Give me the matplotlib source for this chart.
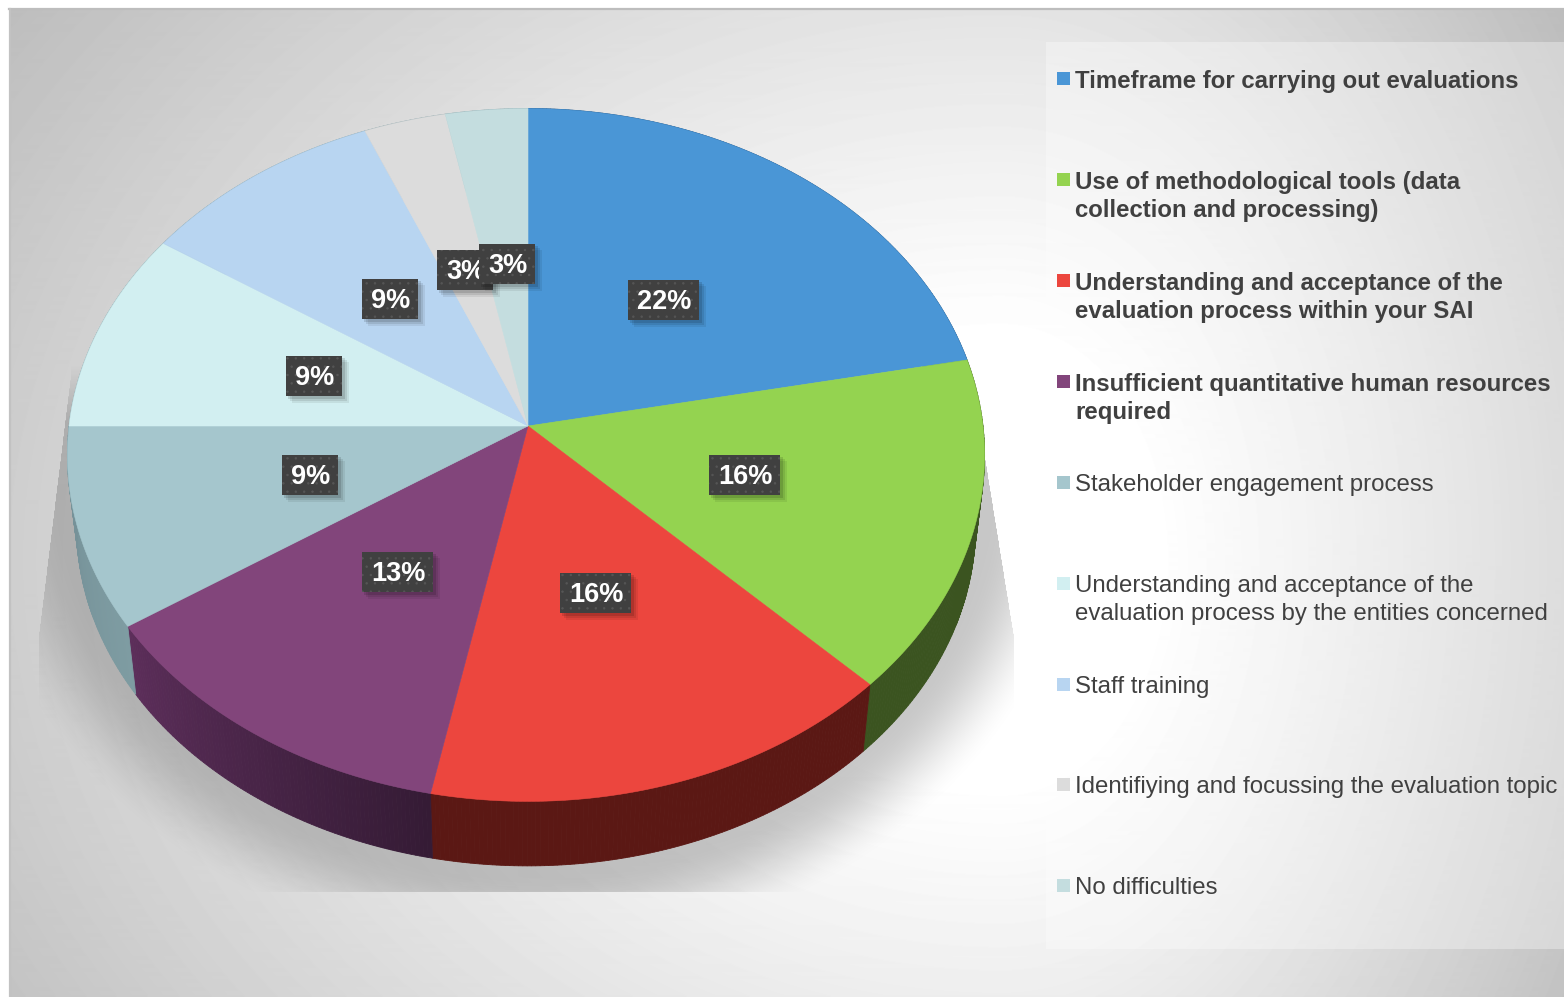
import numpy as np
import matplotlib
matplotlib.use("Agg")
import matplotlib.pyplot as plt
from matplotlib.colors import to_rgb
from matplotlib.patches import Rectangle

plt.rcParams["font.family"] = ["Liberation Sans", "DejaVu Sans"]
plt.rcParams["hatch.linewidth"] = 0.5

W, H = 1564, 997

# responses per difficulty (out of 32)
counts = [7, 5, 5, 4, 3, 3, 3, 1, 1]
labels = [
    "Timeframe for carrying out evaluations",
    "Use of methodological tools (data\ncollection and processing)",
    "Understanding and acceptance of the\nevaluation process within your SAI",
    "Insufficient quantitative human resources\nrequired",
    "Stakeholder engagement process",
    "Understanding and acceptance of the\nevaluation process by the entities concerned",
    "Staff training",
    "Identifiying and focussing the evaluation topic",
    "No difficulties",
]
bold = [True, True, True, True, False, False, False, False, False]
colors = ["#4a96d6", "#94d350", "#ec463e", "#82457b", "#a5c6cd",
          "#d2eff1", "#b8d5f1", "#dcdcdc", "#c4dddf"]
side_from = ["#25507a", "#3b5420", "#5b1814", "#351b35", "#7e9ca2",
             "#7e9ca2", "#7e9ca2", "#7e9ca2", "#7e9ca2"]
side_to = ["#25507a", "#3b5420", "#5b1814", "#5c2e5a", "#748f96",
           "#7e9ca2", "#7e9ca2", "#7e9ca2", "#7e9ca2"]
label_frac = [0.50, 0.485, 0.47, 0.477, 0.485, 0.50, 0.505, 0.51, 0.51]

# perspective of the pie on the page, in pixels
CX, CY = 528, 426
RX_LEFT, RX_RIGHT, RY, PERSP = 459, 455, 344.0, 0.0836
DEPTH, BASE_SCALE = 72, 0.98


def project(theta, r=1.0):
    # theta runs clockwise from 12 o'clock, in degrees
    t = np.radians(theta)
    u, v = r * np.sin(t), r * np.cos(t)
    d = 1 + PERSP * v
    return CX + np.where(u < 0, RX_LEFT, RX_RIGHT) * u / d, CY - RY * v / d


def to_base(x, y):
    return (CX + (x - CX) * BASE_SCALE, CY + (y - CY) * BASE_SCALE + DEPTH)


fig = plt.figure(figsize=(W / 100, H / 100), dpi=100)
ax = fig.add_axes([0, 0, 1, 1])
ax.axis("off")

# page background
xx, yy = np.meshgrid(np.arange(W), np.arange(H))
rx_map = np.where(xx > 1000, 784.0, 1400.0)
dist = np.sqrt(((xx - 1000) / rx_map) ** 2 + ((yy - 560) / 1100.0) ** 2)
grey = (255 - 75 * np.clip((dist - 0.2) / 0.75, 0, 1.2) ** 1.1) / 255
ax.imshow(grey, cmap="gray", vmin=0, vmax=1, extent=(0, W, H, 0), aspect="auto", zorder=0)
ax.add_patch(Rectangle((0, 0), W, 9, fc="white", ec="none", zorder=1))
ax.add_patch(Rectangle((0, 0), 9, H, fc="white", ec="none", zorder=1))
ax.plot([9, W], [9, 9], color="#bdbdbd", lw=1.6, zorder=1)
ax.plot([10, 10], [9, H], color="#c2c2c2", lw=1.6, zorder=1)

# legend panel
ax.add_patch(Rectangle((1046, 42), W - 1046, 907, fc="white", ec="none", alpha=0.33, zorder=1))

# soft shadow under the pie
t = np.sqrt(((xx - 526) / 520.0) ** 2 + ((yy - 470) / 450.0) ** 2)
fall = np.clip((1.09 - t) / 0.19, 0, 1)
fall = fall * fall * (3 - 2 * fall)
left_edge = 70 + (38 - 70) * np.clip((yy - 380) / 260.0, 0, 1)
right_edge = 972 + (1014 - 972) * np.clip((yy - 380) / 260.0, 0, 1)
inside = (xx > left_edge) & (xx < right_edge) & (yy < 892)
top_ramp = np.clip((yy - 365) / 55.0, 0, 1)
strength = 0.17 + 0.05 * np.clip((xx - 100) / 800.0, 0, 1)
rgba = np.zeros((H, W, 4))
rgba[..., 3] = strength * fall * inside * top_ramp
ax.imshow(rgba, extent=(0, W, H, 0), aspect="auto", zorder=2)
ax.set_xlim(0, W)
ax.set_ylim(H, 0)

# slices
edges = np.cumsum([0] + counts) / sum(counts) * 360
for i in range(len(counts)):
    a0, a1 = edges[i], edges[i + 1]
    steps = np.linspace(a0, a1, max(int(a1 - a0) * 2, 12))
    c0, c1 = np.array(to_rgb(side_from[i])), np.array(to_rgb(side_to[i]))
    for j in range(len(steps) - 1):
        tx, ty = project(steps[j:j + 2])
        bx, by = to_base(tx, ty)
        col = c0 + (c1 - c0) * j / (len(steps) - 2)
        ax.fill(np.r_[tx, bx[::-1]], np.r_[ty, by[::-1]], color=col, lw=0.6, zorder=3)

for i in range(len(counts)):
    arc = np.linspace(edges[i], edges[i + 1], 200)
    x, y = project(arc)
    ax.fill(np.r_[CX, x], np.r_[CY, y], color=colors[i], lw=0.4, zorder=4)

# percentage labels
for i, n in enumerate(counts):
    mid = (edges[i] + edges[i + 1]) / 2
    mx, my = project(mid)
    lx = CX + (mx - CX) * label_frac[i]
    ly = CY + (my - CY) * label_frac[i]
    txt = f"{int(100 * n / sum(counts) + 0.5)}%"
    bw = 71 if len(txt) == 3 else 56
    z = 5 + i * 0.1
    for k, al in zip([7, 5, 3], [0.07, 0.09, 0.12]):
        ax.add_patch(Rectangle((lx - bw / 2 + k - 1, ly - 21 + k - 1), bw + 1, 41,
                               fc="black", ec="none", alpha=al, zorder=z))
    ax.add_patch(Rectangle((lx - bw / 2, ly - 21), bw, 40, fc="#404040", ec="#565656",
                           hatch="..", lw=0, zorder=z + 0.01))
    ax.text(lx + 1, ly + 1, txt, color="white", fontsize=19.5, fontweight="bold",
            ha="center", va="center", zorder=z + 0.02)

# legend
for i, lab in enumerate(labels):
    ly = 79 + i * 100.85
    ax.add_patch(Rectangle((1057, ly - 6.5), 13, 13, fc=colors[i], ec="none", zorder=3))
    for j, part in enumerate(lab.split("\n")):
        ax.text(1075, ly + j * 28, part, color="#404040", fontsize=17.3,
                fontweight="bold" if bold[i] else "normal",
                ha="left", va="center_baseline", zorder=3)

fig.savefig("out.png", dpi=100)
